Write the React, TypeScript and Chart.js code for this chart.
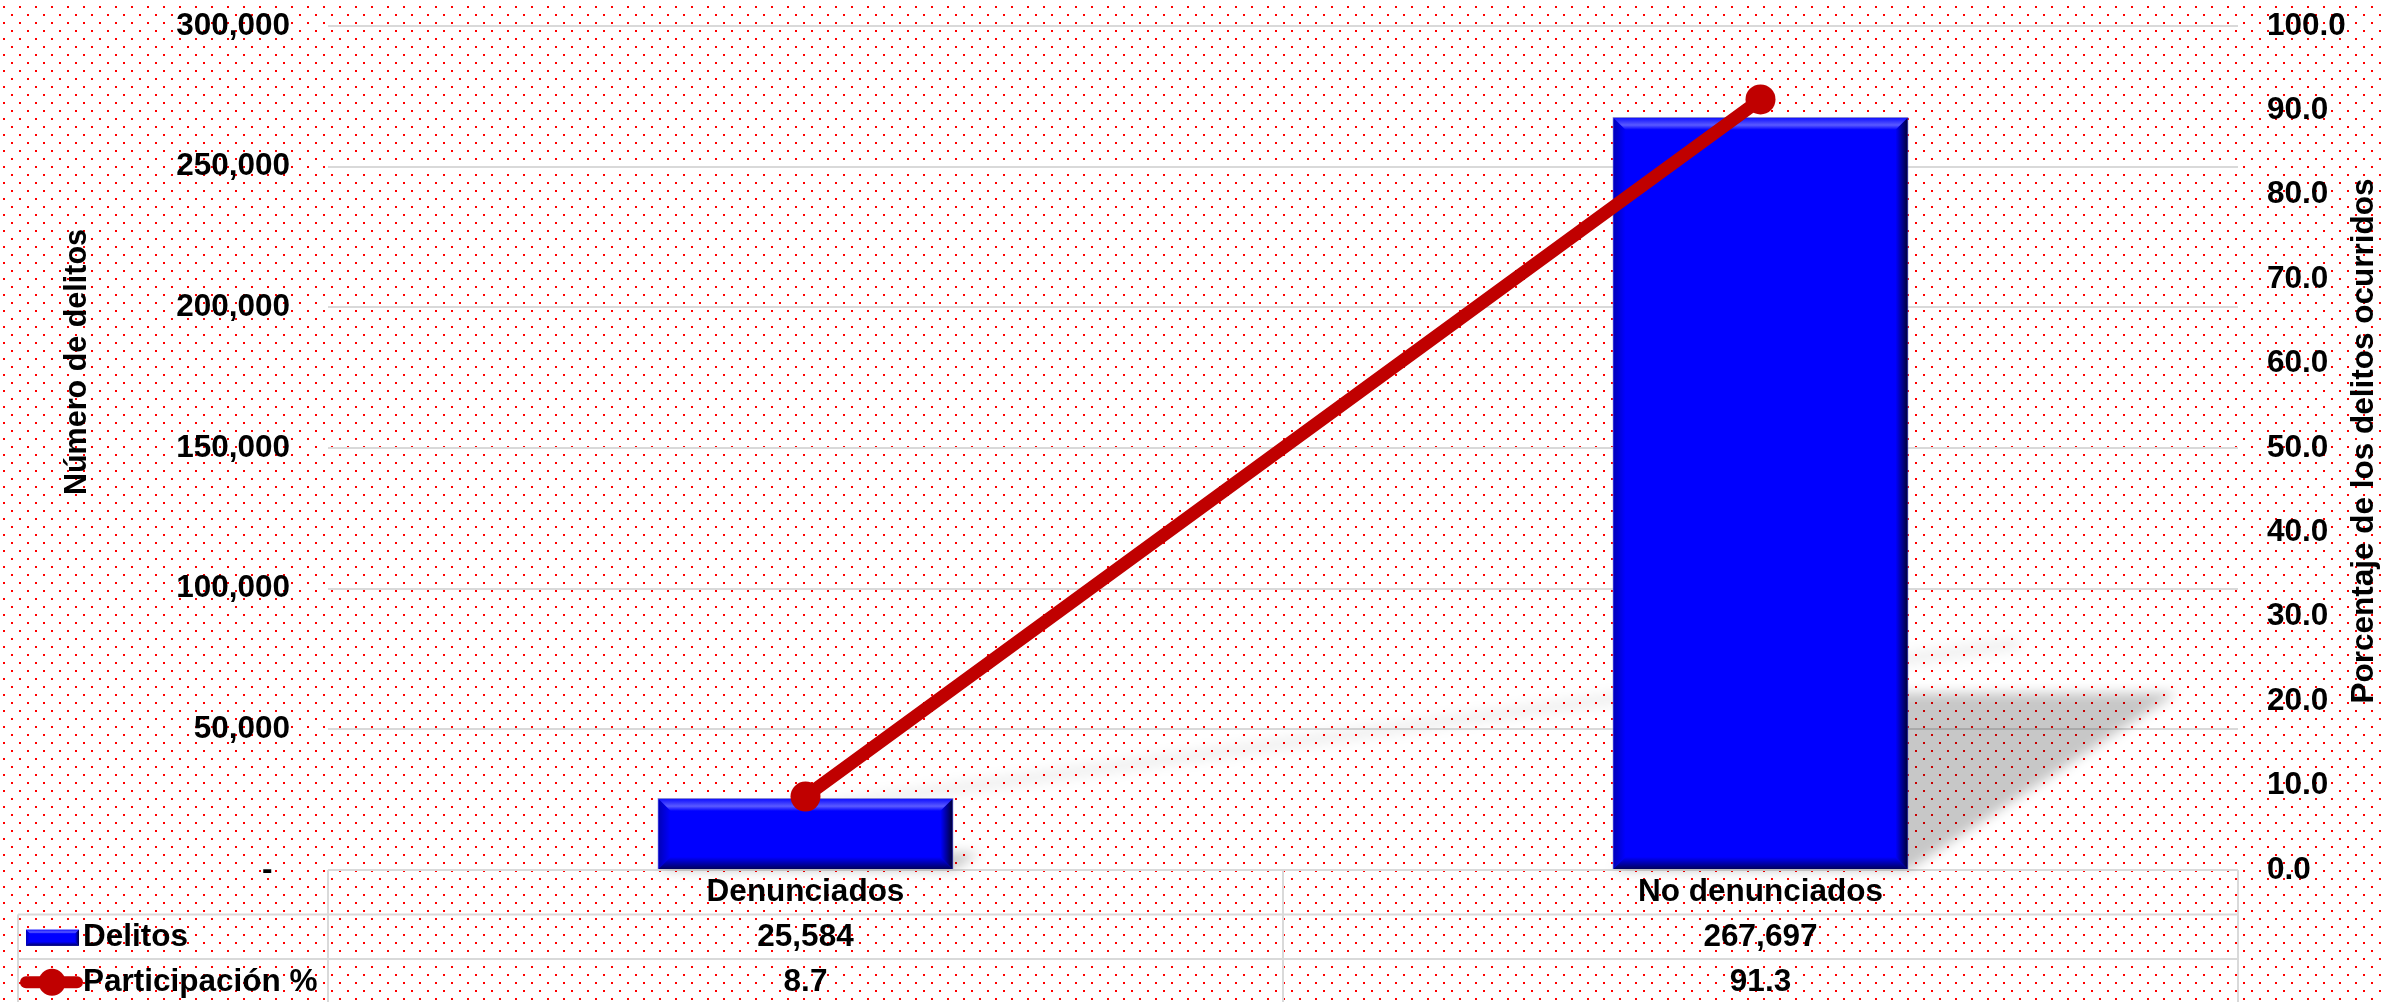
import React, { useEffect, useRef } from "react";
import { Chart, registerables } from "chart.js";

Chart.register(...registerables);

// ---- data ----
const categories = ["Denunciados", "No denunciados"];
const delitos = [25584, 267697];
const participacion = [8.7, 91.3];
const seriesNames = ["Delitos", "Participación %"];
const leftAxisMax = 300000;
const leftAxisStep = 50000;
const rightAxisMax = 100;
const rightAxisStep = 10;
const leftTitle = "Número de delitos";
const rightTitle = "Porcentaje de los delitos ocurridos";

const FAMILY = '"Liberation Sans", Arial, Helvetica, sans-serif';
const FONT_SIZE = 31.5;
const BOLD = `bold ${FONT_SIZE}px ${FAMILY}`;
const TITLE_FONT = `bold 30.5px ${FAMILY}`;
const BLUE = "#0000FF";
const RED = "#C00000";
const GRID = "#D9D9D9";

function drawBevel(ctx: CanvasRenderingContext2D, l: number, t: number, r: number, b: number, bv: number) {
  ctx.save();
  let g = ctx.createLinearGradient(0, t, 0, t + bv);
  g.addColorStop(0, "#1010ff");
  g.addColorStop(0.6, "#5a5aff");
  g.addColorStop(1, "#0000ff");
  ctx.fillStyle = g;
  ctx.beginPath();
  ctx.moveTo(l, t); ctx.lineTo(r, t); ctx.lineTo(r - bv, t + bv); ctx.lineTo(l + bv, t + bv); ctx.closePath();
  ctx.fill();
  g = ctx.createLinearGradient(l, 0, l + bv, 0);
  g.addColorStop(0, "#0000b8");
  g.addColorStop(1, "#0000ff");
  ctx.fillStyle = g;
  ctx.beginPath();
  ctx.moveTo(l, t); ctx.lineTo(l + bv, t + bv); ctx.lineTo(l + bv, b - bv); ctx.lineTo(l, b); ctx.closePath();
  ctx.fill();
  g = ctx.createLinearGradient(r, 0, r - bv, 0);
  g.addColorStop(0, "#000038");
  g.addColorStop(1, "#0000ff");
  ctx.fillStyle = g;
  ctx.beginPath();
  ctx.moveTo(r, t); ctx.lineTo(r, b); ctx.lineTo(r - bv, b - bv); ctx.lineTo(r - bv, t + bv); ctx.closePath();
  ctx.fill();
  g = ctx.createLinearGradient(0, b, 0, b - bv);
  g.addColorStop(0, "#000060");
  g.addColorStop(1, "#0000ff");
  ctx.fillStyle = g;
  ctx.beginPath();
  ctx.moveTo(l, b); ctx.lineTo(r, b); ctx.lineTo(r - bv, b - bv); ctx.lineTo(l + bv, b - bv); ctx.closePath();
  ctx.fill();
  ctx.restore();
}

const backgroundPlugin = {
  id: "dotsBackground",
  beforeDraw(chart: any) {
    const ctx = chart.ctx as CanvasRenderingContext2D;
    const tile = document.createElement("canvas");
    tile.width = 16;
    tile.height = 16;
    const t = tile.getContext("2d")!;
    t.fillStyle = "#ffffff";
    t.fillRect(0, 0, 16, 16);
    t.fillStyle = "#ff0000";
    t.fillRect(11, 14, 2, 2);
    t.fillRect(3, 6, 2, 2);
    const pat = ctx.createPattern(tile, "repeat")!;
    ctx.save();
    ctx.fillStyle = pat;
    ctx.fillRect(0, 0, chart.width, chart.height);
    ctx.restore();
  },
};

const shadowPlugin = {
  id: "perspectiveShadow",
  beforeDatasetsDraw(chart: any) {
    const ctx = chart.ctx as CanvasRenderingContext2D;
    const barMeta = chart.getDatasetMeta(0);
    const lineMeta = chart.getDatasetMeta(1);
    const base = chart.scales.y.getPixelForValue(0);
    const sy = 0.235;
    const kx = 0.356;
    ctx.save();
    ctx.filter = "blur(6px)";
    ctx.fillStyle = "rgba(0,0,0,0.22)";
    barMeta.data.forEach((bar: any) => {
      const { x, y, width } = bar.getProps(["x", "y", "width"], true);
      const l = x - width / 2;
      const r = x + width / 2;
      const d = base - y;
      const ty = base - d * sy;
      const sh = d * kx;
      ctx.beginPath();
      ctx.moveTo(l, base);
      ctx.lineTo(r, base);
      ctx.lineTo(r + sh, ty);
      ctx.lineTo(l + sh, ty);
      ctx.closePath();
      ctx.fill();
    });
    const pts = lineMeta.data;
    const lb = Math.max(...pts.map((p: any) => p.y)) + 15;
    ctx.strokeStyle = "rgba(0,0,0,0.06)";
    ctx.lineWidth = 12;
    ctx.lineCap = "round";
    ctx.beginPath();
    pts.forEach((p: any, i: number) => {
      const d = lb - p.y;
      const X = p.x + d * kx;
      const Y = lb - d * sy;
      if (i === 0) ctx.moveTo(X, Y);
      else ctx.lineTo(X, Y);
    });
    ctx.stroke();
    ctx.restore();
  },
  afterDatasetDraw(chart: any, args: any) {
    if (args.index !== 0) return;
    const ctx = chart.ctx as CanvasRenderingContext2D;
    args.meta.data.forEach((bar: any) => {
      const { x, y, base, width } = bar.getProps(["x", "y", "base", "width"], true);
      const l = x - width / 2 + 1;
      const r = x + width / 2 - 1;
      drawBevel(ctx, l, y + 1, r, base, 12);
    });
  },
};

const tablePlugin = {
  id: "dataTable",
  afterDraw(chart: any) {
    const ctx = chart.ctx as CanvasRenderingContext2D;
    const area = chart.chartArea;
    const xs = chart.scales.x;
    const n = categories.length;
    const bounds: number[] = [area.left];
    for (let i = 1; i < n; i++) {
      bounds.push((xs.getPixelForValue(i - 1) + xs.getPixelForValue(i)) / 2);
    }
    bounds.push(area.right);
    const row0 = area.bottom;
    const rowH = 44.5;
    const r1 = row0 + rowH;
    const r2 = r1 + rowH;
    const bottom = chart.height + 2;
    const tableLeft = 18;

    ctx.save();
    ctx.strokeStyle = GRID;
    ctx.lineWidth = 2;
    ctx.beginPath();
    [r1, r2].forEach((yy) => {
      ctx.moveTo(tableLeft, yy);
      ctx.lineTo(area.right, yy);
    });
    bounds.forEach((xx) => {
      ctx.moveTo(xx, row0);
      ctx.lineTo(xx, bottom);
    });
    ctx.moveTo(tableLeft, r1);
    ctx.lineTo(tableLeft, bottom);
    ctx.stroke();

    ctx.fillStyle = "#000";
    ctx.font = BOLD;
    ctx.textAlign = "center";
    ctx.textBaseline = "middle";
    const c1 = r1 + rowH / 2 + 1;
    const c2 = r2 + rowH / 2 + 1;
    for (let i = 0; i < n; i++) {
      const px = xs.getPixelForValue(i);
      ctx.fillText(delitos[i].toLocaleString("en-US"), px, c1);
      ctx.fillText(participacion[i].toFixed(1), px, c2);
    }

    ctx.fillStyle = BLUE;
    ctx.fillRect(26, c1 - 8, 53, 16);
    drawBevel(ctx, 26, c1 - 8, 79, c1 + 8, 4);

    ctx.strokeStyle = RED;
    ctx.lineWidth = 12;
    ctx.lineCap = "round";
    ctx.beginPath();
    ctx.moveTo(26, c2);
    ctx.lineTo(77, c2);
    ctx.stroke();
    ctx.fillStyle = RED;
    ctx.beginPath();
    ctx.arc(52, c2, 13.5, 0, Math.PI * 2);
    ctx.fill();

    ctx.fillStyle = "#000";
    ctx.textAlign = "left";
    ctx.fillText(seriesNames[0], 83, c1);
    ctx.fillText(seriesNames[1], 83, c2);
    ctx.restore();
  },
};

const titlesPlugin = {
  id: "axisTitles",
  afterDraw(chart: any) {
    const ctx = chart.ctx as CanvasRenderingContext2D;
    ctx.save();
    ctx.fillStyle = "#000";
    ctx.font = TITLE_FONT;
    ctx.textAlign = "center";
    ctx.textBaseline = "middle";
    ctx.translate(78, 362);
    ctx.rotate(-Math.PI / 2);
    ctx.fillText(leftTitle, 0, 0);
    ctx.restore();

    ctx.save();
    ctx.fillStyle = "#000";
    ctx.font = BOLD;
    ctx.textAlign = "center";
    ctx.textBaseline = "middle";
    ctx.translate(2364, 441);
    ctx.rotate(-Math.PI / 2);
    ctx.fillText(rightTitle, 0, 0);
    ctx.restore();
  },
};

export default function App() {
  const ref = useRef<HTMLCanvasElement>(null);

  useEffect(() => {
    document.body.style.margin = "0";
    const canvas = ref.current!;
    const font = { family: FAMILY, size: FONT_SIZE, weight: "bold" as const };
    const chart = new Chart(canvas, {
      type: "bar",
      data: {
        labels: categories,
        datasets: [
          {
            type: "bar",
            label: seriesNames[0],
            data: delitos,
            yAxisID: "y",
            backgroundColor: BLUE,
            borderColor: "#8c8cd0",
            borderWidth: 1,
            barPercentage: 1,
            categoryPercentage: 0.31,
            order: 1,
          },
          {
            type: "line",
            label: seriesNames[1],
            data: participacion,
            yAxisID: "y1",
            borderColor: RED,
            backgroundColor: RED,
            borderWidth: 13,
            borderCapStyle: "round",
            pointRadius: 15,
            pointHoverRadius: 15,
            pointBackgroundColor: RED,
            pointBorderColor: RED,
            pointBorderWidth: 0,
            tension: 0,
            order: 0,
          } as any,
        ],
      },
      options: {
        responsive: false,
        animation: false,
        devicePixelRatio: 1,
        layout: { padding: { top: 26, left: 0, right: 0, bottom: 0 } },
        plugins: {
          legend: { display: false },
          tooltip: { enabled: false },
          title: { display: false },
        },
        scales: {
          x: {
            grid: { display: false, drawTicks: false },
            border: { display: false },
            ticks: { color: "#000", font, padding: 3 },
            afterFit: (s: any) => {
              s.height = 132;
              s.paddingLeft = 0;
              s.paddingRight = 0;
            },
          },
          y: {
            position: "left",
            min: 0,
            max: leftAxisMax,
            grid: { color: GRID, lineWidth: 2, drawTicks: false },
            border: { display: false },
            ticks: {
              stepSize: leftAxisStep,
              color: "#000",
              font,
              padding: 38,
              callback: (v: any) => (Number(v) === 0 ? "-  " : Number(v).toLocaleString("en-US")),
            },
            afterFit: (s: any) => {
              s.width = 328;
              s.paddingTop = 0;
              s.paddingBottom = 0;
            },
          },
          y1: {
            position: "right",
            min: 0,
            max: rightAxisMax,
            grid: { display: false, drawTicks: false },
            border: { display: false },
            ticks: {
              stepSize: rightAxisStep,
              color: "#000",
              font,
              padding: 29,
              callback: (v: any) => Number(v).toFixed(1),
            },
            afterFit: (s: any) => {
              s.width = 144;
              s.paddingTop = 0;
              s.paddingBottom = 0;
            },
          },
        },
      },
      plugins: [backgroundPlugin, shadowPlugin, tablePlugin, titlesPlugin],
    });
    return () => chart.destroy();
  }, []);

  return (
    <div style={{ width: 2382, height: 1002, position: "relative" }}>
      <canvas ref={ref} width={2382} height={1002} style={{ display: "block", width: 2382, height: 1002 }} />
    </div>
  );
}
